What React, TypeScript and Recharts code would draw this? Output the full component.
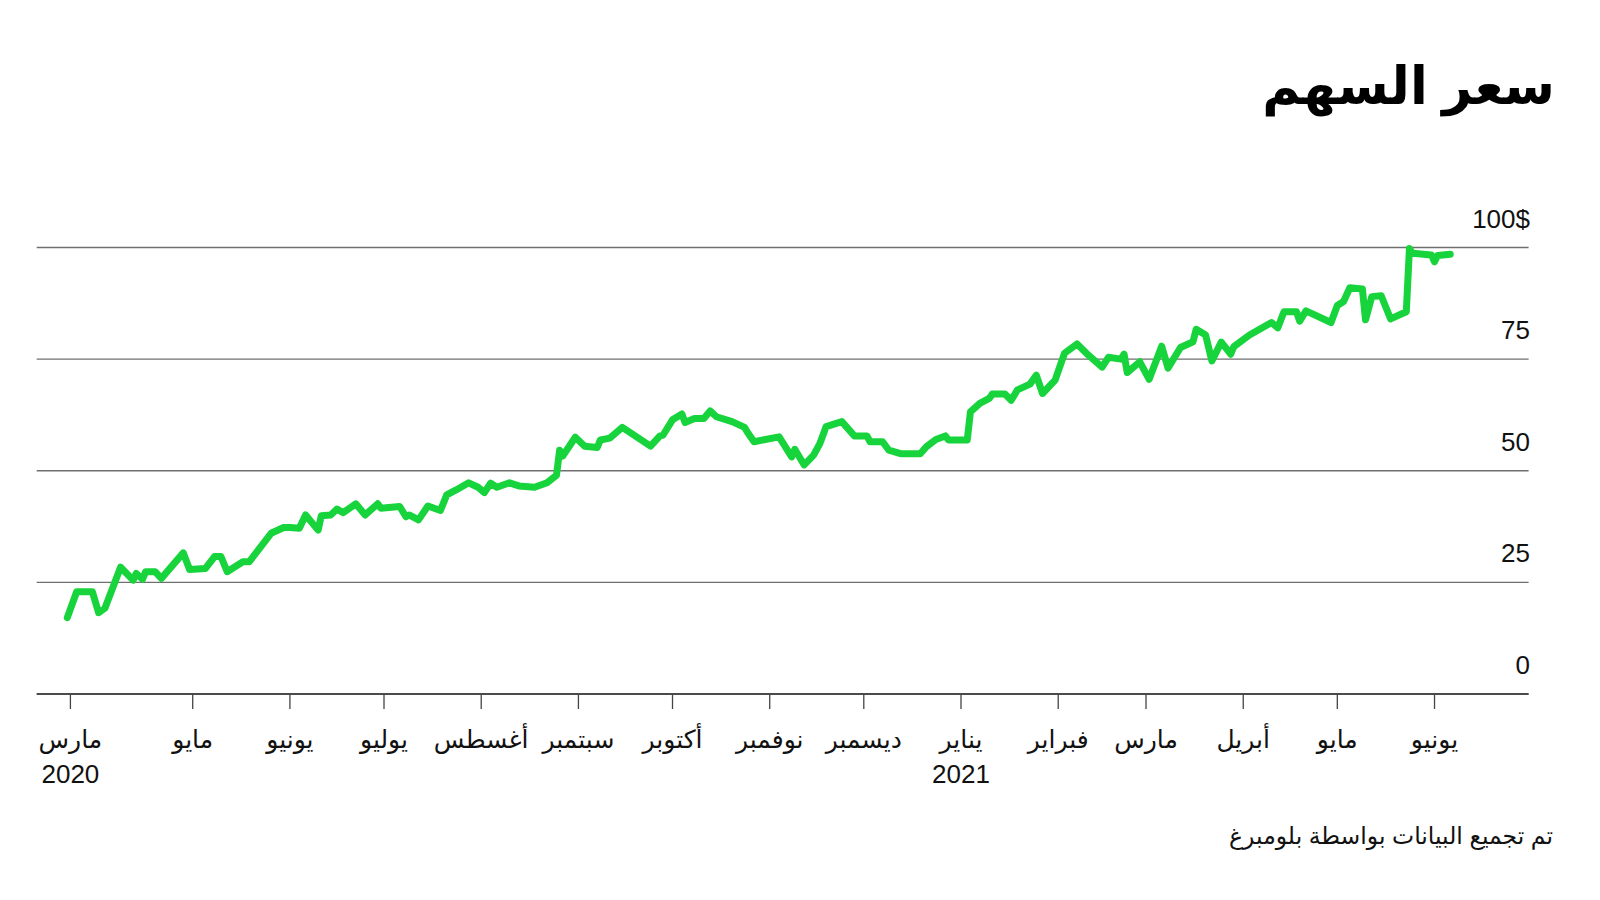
import { CartesianGrid, Line, LineChart, XAxis, YAxis } from "recharts";

// days counted from the first trading day (late March 2020)
const DAYS = [
  -1, 2, 7, 9, 11, 16, 20, 21, 23, 24, 27, 29, 36, 38, 43, 46, 48, 50, 55, 57,
  64, 68, 70, 73, 75, 79, 80, 83, 85, 87, 91, 94, 98, 99, 105, 107, 108, 111,
  114, 118, 120, 123, 127, 130, 132, 134, 136, 140, 143, 148, 152, 155, 156,
  157, 161, 164, 168, 169, 172, 176, 185, 188, 189, 192, 195, 196, 199, 202,
  204, 206, 211, 215, 216, 218, 226, 230, 231, 234, 237, 239, 241, 246, 250,
  254, 255, 259, 261, 265, 271, 273, 276, 279, 280, 286, 287, 290, 293, 294,
  298, 300, 302, 306, 308, 310, 314, 317, 321, 324, 329, 331, 335, 336, 337,
  341, 344, 348, 350, 354, 358, 359, 362, 364, 367, 370, 371, 376, 383, 385,
  387, 391, 392, 394, 402, 404, 406, 408, 412, 413, 415, 418, 421, 426, 427,
  428, 434, 435, 436, 440,
];

const PRICES = [
  17.1, 22.9, 22.9, 18.2, 19.2, 28.4, 25.5, 27.0, 25.7, 27.4, 27.4, 25.9, 31.6,
  27.9, 28.1, 30.8, 30.8, 27.4, 29.6, 29.6, 36.0, 37.3, 37.3, 37.1, 40.1, 36.7,
  39.9, 40.1, 41.4, 40.6, 42.6, 40.1, 42.6, 41.6, 42.0, 39.7, 40.1, 39.0, 42.1,
  41.1, 44.6, 45.7, 47.3, 46.3, 45.1, 47.2, 46.3, 47.3, 46.6, 46.3, 47.3, 49.0,
  54.6, 53.3, 57.5, 55.5, 55.2, 56.9, 57.3, 59.7, 55.5, 57.8, 58.0, 61.4, 62.7,
  60.8, 61.7, 61.7, 63.4, 62.1, 61.0, 59.7, 58.5, 56.5, 57.6, 53.1, 54.8, 51.3,
  53.5, 56.1, 59.9, 61.0, 57.8, 57.8, 56.5, 56.5, 54.6, 53.8, 53.8, 55.4, 57.0,
  57.8, 56.9, 56.9, 63.2, 65.1, 66.2, 67.2, 67.2, 65.8, 68.1, 69.4, 71.4, 67.3,
  70.3, 76.3, 78.4, 76.3, 73.2, 75.4, 75.0, 76.1, 72.0, 74.4, 70.5, 77.9, 73.0,
  77.6, 78.9, 81.7, 80.4, 74.6, 78.8, 76.1, 77.8, 80.4, 83.2, 82.0, 85.6, 85.6,
  83.5, 85.8, 83.2, 87.0, 87.9, 91.0, 90.7, 83.8, 89.0, 89.2, 84.0, 85.6, 99.8,
  98.7, 98.3, 96.8, 98.2, 98.5,
];

const MONTH_TICKS = [0, 39, 70, 100, 131, 162, 192, 223, 253, 284, 315, 343, 374, 404, 435];
const MONTH_LABELS = [
  "مارس", "مايو", "يونيو", "يوليو", "أغسطس", "سبتمبر", "أكتوبر", "نوفمبر",
  "ديسمبر", "يناير", "فبراير", "مارس", "أبريل", "مايو", "يونيو",
];
const YEAR_LABELS = ["2020", "", "", "", "", "", "", "", "", "2021", "", "", "", "", ""];

const PRICE_TICKS = [0, 25, 50, 75, 100];
const PRICE_LABELS = ["0", "25", "50", "75", "100$"];

const data = DAYS.map((d, i) => ({ day: d, price: PRICES[i] }));

const FONT = "'Liberation Sans', 'DejaVu Sans', sans-serif";

function MonthTick(props: any) {
  const i = MONTH_TICKS.indexOf(props.payload.value);
  return (
    <g>
      <text x={props.x} y={748} textAnchor="middle" fontSize={25} fill="#111" fontFamily={FONT}>
        {MONTH_LABELS[i]}
      </text>
      {YEAR_LABELS[i] && (
        <text x={props.x} y={783} textAnchor="middle" fontSize={26} fill="#111" fontFamily={FONT}>
          {YEAR_LABELS[i]}
        </text>
      )}
    </g>
  );
}

function PriceTick(props: any) {
  const i = PRICE_TICKS.indexOf(props.payload.value);
  return (
    <text x={1530} y={props.y - 20} textAnchor="end" fontSize={26} fill="#111" fontFamily={FONT}>
      {PRICE_LABELS[i]}
    </text>
  );
}

export default function App() {
  return (
    <div
      style={{
        position: "absolute",
        left: 0,
        top: 0,
        width: 1600,
        height: 900,
        background: "#fff",
        fontFamily: FONT,
      }}
    >
      <div
        dir="rtl"
        style={{
          position: "absolute",
          right: 45,
          top: 55,
          fontSize: 52,
          fontWeight: 700,
          color: "#000",
          lineHeight: 1.2,
        }}
      >
        سعر السهم
      </div>
      <LineChart
        width={1600}
        height={900}
        data={data}
        margin={{ top: 247.5, right: 70.4, bottom: 146, left: 36.7 }}
      >
        <CartesianGrid vertical={false} stroke="#6f6f6f" strokeWidth={1.3} />
        <XAxis
          dataKey="day"
          type="number"
          domain={[-10.75, 465]}
          ticks={MONTH_TICKS}
          interval={0}
          height={60}
          tick={<MonthTick />}
          tickSize={15}
          tickLine={{ stroke: "#444", strokeWidth: 1.3 }}
          axisLine={{ stroke: "#333", strokeWidth: 1.5 }}
        />
        <YAxis
          orientation="right"
          domain={[0, 100]}
          ticks={PRICE_TICKS}
          width={1}
          axisLine={false}
          tickLine={false}
          tick={<PriceTick />}
        />
        <Line
          dataKey="price"
          type="linear"
          stroke="#18d43c"
          strokeWidth={7}
          strokeLinejoin="round"
          strokeLinecap="round"
          dot={false}
          isAnimationActive={false}
        />
      </LineChart>
      <div
        dir="rtl"
        style={{
          position: "absolute",
          right: 47,
          top: 822,
          fontSize: 23.5,
          color: "#111",
          lineHeight: 1.2,
        }}
      >
        تم تجميع البيانات بواسطة بلومبرغ
      </div>
    </div>
  );
}
